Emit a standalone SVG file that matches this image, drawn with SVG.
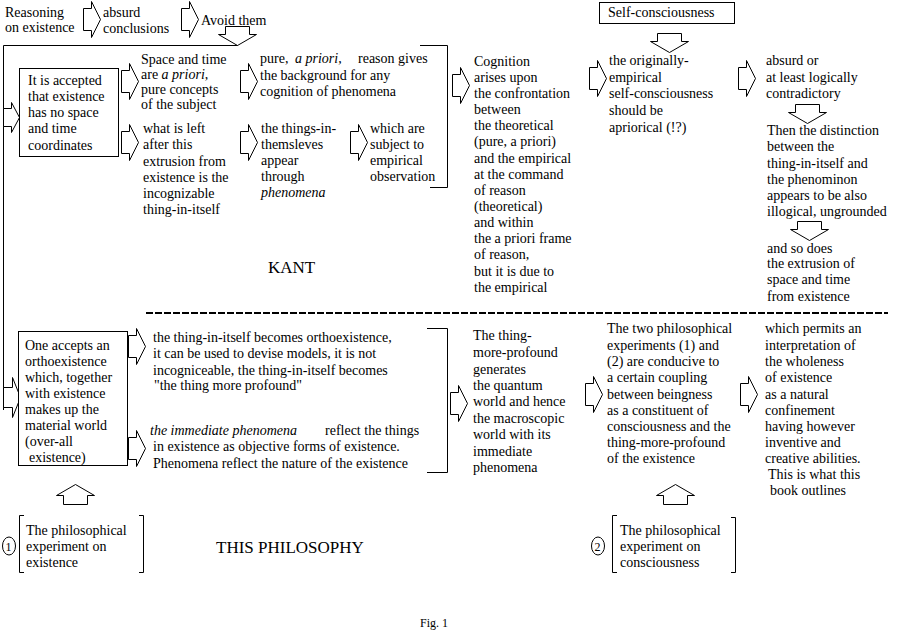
<svg xmlns="http://www.w3.org/2000/svg" width="906" height="632" viewBox="0 0 906 632">
<style>
text{font-family:"Liberation Serif","Times New Roman",serif;font-size:14px;fill:#000}
.it{font-style:italic}
.big{font-size:17px}
.sm{font-size:12px}
.ln{fill:none;stroke:#000;stroke-width:1}
.ar{fill:#fff;stroke:#000;stroke-width:1}
.box{fill:#fff;stroke:#000;stroke-width:1}
</style>
<defs>
<path id="ra" d="M0.5,7.5 H8.5 V0.5 L17.5,18.5 L8.5,36.5 V29.5 H0.5 Z"/>
<path id="da" d="M7.5,0.5 H31.5 V8.5 H38.5 L19.5,19.5 L0.5,8.5 H7.5 Z"/>
<path id="ua" d="M19.5,0.5 L38.5,11.5 H31.5 V20.5 H7.5 V11.5 H0.5 Z"/>
</defs>
<rect width="906" height="632" fill="#fff"/>

<g id="connectors">
<polyline class="ln" points="238,45.5 3.5,45.5 3.5,410"/>
<path class="ar" d="M3.5,108.5 H11.5 V102.5 L19.5,117.5 L11.5,132.5 V126.5 H3.5 Z"/>
<path class="ar" d="M3.5,387.5 H12.5 V377.5 L20.5,397.5 L12.5,417.5 V407.5 H3.5 Z"/>
<use href="#ra" class="ar" x="83" y="1"/>
<use href="#ra" class="ar" x="181" y="1"/>
<use href="#da" class="ar" x="218" y="26"/>
<use href="#ra" class="ar" x="121" y="63"/>
<use href="#ra" class="ar" x="121" y="124"/>
<use href="#ra" class="ar" x="240" y="63"/>
<use href="#ra" class="ar" x="240" y="124"/>
<use href="#ra" class="ar" x="350" y="124"/>
<polyline class="ln" points="420,45.5 447.5,45.5 447.5,187.5 430,187.5"/>
<use href="#ra" class="ar" x="452" y="67"/>
<use href="#da" class="ar" x="650" y="33"/>
<use href="#ra" class="ar" x="589" y="60"/>
<use href="#ra" class="ar" x="738" y="60"/>
<use href="#da" class="ar" x="788" y="104"/>
<use href="#da" class="ar" x="790" y="221"/>
<line x1="146" y1="313" x2="888" y2="313" stroke="#000" stroke-width="2" stroke-dasharray="7 2"/>
<use href="#ra" class="ar" x="128" y="328"/>
<use href="#ra" class="ar" x="128" y="430"/>
<polyline class="ln" points="427,328.5 447.5,328.5 447.5,472.5 427,472.5"/>
<use href="#ra" class="ar" x="450" y="385"/>
<use href="#ra" class="ar" x="585" y="376"/>
<use href="#ra" class="ar" x="740" y="376"/>
<use href="#ua" class="ar" x="56" y="484"/>
<use href="#ua" class="ar" x="656" y="484"/>
</g>

<g id="reasoning"><text x="5" y="17">Reasoning</text><text x="5" y="32">on existence</text></g>
<g id="absurd"><text x="103" y="17">absurd</text><text x="103" y="33">conclusions</text></g>
<g id="avoid"><text x="201" y="25">Avoid them</text></g>

<g id="kant-box">
<rect class="box" x="19.5" y="68.5" width="99" height="88"/>
<text x="28" y="85">It is accepted</text>
<text x="28" y="101">that existence</text>
<text x="28" y="117">has no space</text>
<text x="28" y="133">and time</text>
<text x="28" y="150">coordinates</text>
</g>

<g id="space-time">
<text x="141" y="64">Space and time</text>
<text x="141" y="79">are <tspan class="it">a priori,</tspan></text>
<text x="141" y="94">pure concepts</text>
<text x="141" y="109">of the subject</text>
</g>
<g id="left-after">
<text x="143" y="133">what is left</text>
<text x="143" y="149">after this</text>
<text x="143" y="166">extrusion from</text>
<text x="143" y="182">existence is the</text>
<text x="143" y="198">incognizable</text>
<text x="143" y="214">thing-in-itself</text>
</g>
<g id="pure-reason">
<text x="260" y="63">pure,</text><text x="295" y="63" class="it">a priori,</text><text x="358" y="63">reason gives</text>
<text x="260" y="80">the background for any</text>
<text x="260" y="96">cognition of phenomena</text>
</g>
<g id="things-in">
<text x="261" y="133">the things-in-</text>
<text x="261" y="149">themsleves</text>
<text x="261" y="165">appear</text>
<text x="261" y="181">through</text>
<text x="261" y="197" class="it">phenomena</text>
</g>
<g id="which-are">
<text x="370" y="133">which are</text>
<text x="370" y="149">subject to</text>
<text x="370" y="165">empirical</text>
<text x="370" y="181">observation</text>
</g>
<g id="cognition">
<text x="474" y="66">Cognition</text>
<text x="474" y="82">arises upon</text>
<text x="474" y="98">the confrontation</text>
<text x="474" y="114">between</text>
<text x="474" y="130">the theoretical</text>
<text x="474" y="146">(pure, a priori)</text>
<text x="474" y="163">and the empirical</text>
<text x="474" y="179">at the command</text>
<text x="474" y="195">of reason</text>
<text x="474" y="211">(theoretical)</text>
<text x="474" y="227">and within</text>
<text x="474" y="243">the a priori frame</text>
<text x="474" y="259">of reason,</text>
<text x="474" y="276">but it is due to</text>
<text x="474" y="292">the empirical</text>
</g>
<g id="self-consciousness">
<rect class="box" x="599.5" y="2.5" width="135" height="21"/>
<text x="608" y="17">Self-consciousness</text>
</g>
<g id="originally">
<text x="609" y="65">the originally-</text>
<text x="609" y="82">empirical</text>
<text x="609" y="98">self-consciousness</text>
<text x="609" y="115">should be</text>
<text x="609" y="132">apriorical (!?)</text>
</g>
<g id="absurd-or">
<text x="766" y="65">absurd or</text>
<text x="766" y="82">at least logically</text>
<text x="766" y="98">contradictory</text>
</g>
<g id="distinction">
<text x="767" y="135">Then the distinction</text>
<text x="767" y="151">between the</text>
<text x="767" y="168">thing-in-itself and</text>
<text x="767" y="184">the phenominon</text>
<text x="767" y="200">appears to be also</text>
<text x="767" y="216">illogical, ungrounded</text>
</g>
<g id="so-does">
<text x="767" y="253">and so does</text>
<text x="767" y="268">the extrusion of</text>
<text x="767" y="284">space and time</text>
<text x="767" y="301">from existence</text>
</g>
<g id="kant-label"><text x="268" y="273" class="big">KANT</text></g>

<g id="ortho-box">
<rect class="box" x="18.5" y="331.5" width="109" height="134"/>
<text x="25" y="350">One accepts an</text>
<text x="25" y="366">orthoexistence</text>
<text x="25" y="382">which, together</text>
<text x="25" y="398">with existence</text>
<text x="25" y="414">makes up the</text>
<text x="25" y="430">material world</text>
<text x="25" y="446">(over-all</text>
<text x="29" y="462">existence)</text>
</g>
<g id="becomes">
<text x="153" y="342">the thing-in-itself becomes orthoexistence,</text>
<text x="153" y="358">it can be used to devise models, it is not</text>
<text x="153" y="375">incogniceable, the thing-in-itself becomes</text>
<text x="154" y="390">"the thing more profound"</text>
</g>
<g id="immediate">
<text x="150" y="435" class="it">the immediate phenomena</text><text x="325" y="435">reflect the things</text>
<text x="153" y="451">in existence as objective forms of existence.</text>
<text x="153" y="468">Phenomena reflect the nature of the existence</text>
</g>
<g id="more-profound">
<text x="473" y="340">The thing-</text>
<text x="473" y="357">more-profound</text>
<text x="473" y="374">generates</text>
<text x="473" y="390">the quantum</text>
<text x="473" y="406">world and hence</text>
<text x="473" y="423">the macroscopic</text>
<text x="473" y="439">world with its</text>
<text x="473" y="456">immediate</text>
<text x="473" y="472">phenomena</text>
</g>
<g id="two-experiments">
<text x="607" y="333">The two philosophical</text>
<text x="607" y="350">experiments (1) and</text>
<text x="607" y="366">(2) are conducive to</text>
<text x="607" y="382">a certain coupling</text>
<text x="607" y="399">between beingness</text>
<text x="607" y="415">as a constituent of</text>
<text x="607" y="431">consciousness and the</text>
<text x="607" y="447">thing-more-profound</text>
<text x="607" y="463">of the existence</text>
</g>
<g id="wholeness">
<text x="765" y="333">which permits an</text>
<text x="765" y="350">interpretation of</text>
<text x="765" y="366">the wholeness</text>
<text x="765" y="382">of existence</text>
<text x="765" y="399">as a natural</text>
<text x="765" y="415">confinement</text>
<text x="765" y="431">having however</text>
<text x="765" y="447">inventive and</text>
<text x="765" y="463">creative abilities.</text>
<text x="768" y="479">This is what this</text>
<text x="770" y="495">book outlines</text>
</g>

<g id="experiment-1">
<ellipse class="ln" cx="9" cy="546" rx="6.5" ry="9"/>
<text x="5.5" y="551" class="sm">1</text>
<polyline class="ln" points="24,515.5 19.5,515.5 19.5,572.5 24,572.5"/>
<polyline class="ln" points="139,515.5 143.5,515.5 143.5,572.5 139,572.5"/>
<text x="26" y="535">The philosophical</text>
<text x="26" y="551">experiment on</text>
<text x="26" y="567">existence</text>
</g>
<g id="this-philosophy"><text x="216" y="553" class="big">THIS PHILOSOPHY</text></g>
<g id="experiment-2">
<ellipse class="ln" cx="598" cy="546" rx="6.5" ry="9"/>
<text x="594.5" y="551" class="sm">2</text>
<polyline class="ln" points="617,515.5 612.5,515.5 612.5,572.5 617,572.5"/>
<polyline class="ln" points="731,517.5 735.5,517.5 735.5,572.5 731,572.5"/>
<text x="620" y="535">The philosophical</text>
<text x="620" y="551">experiment on</text>
<text x="620" y="567">consciousness</text>
</g>
<g id="caption"><text x="420" y="627" class="sm">Fig. 1</text></g>
</svg>
